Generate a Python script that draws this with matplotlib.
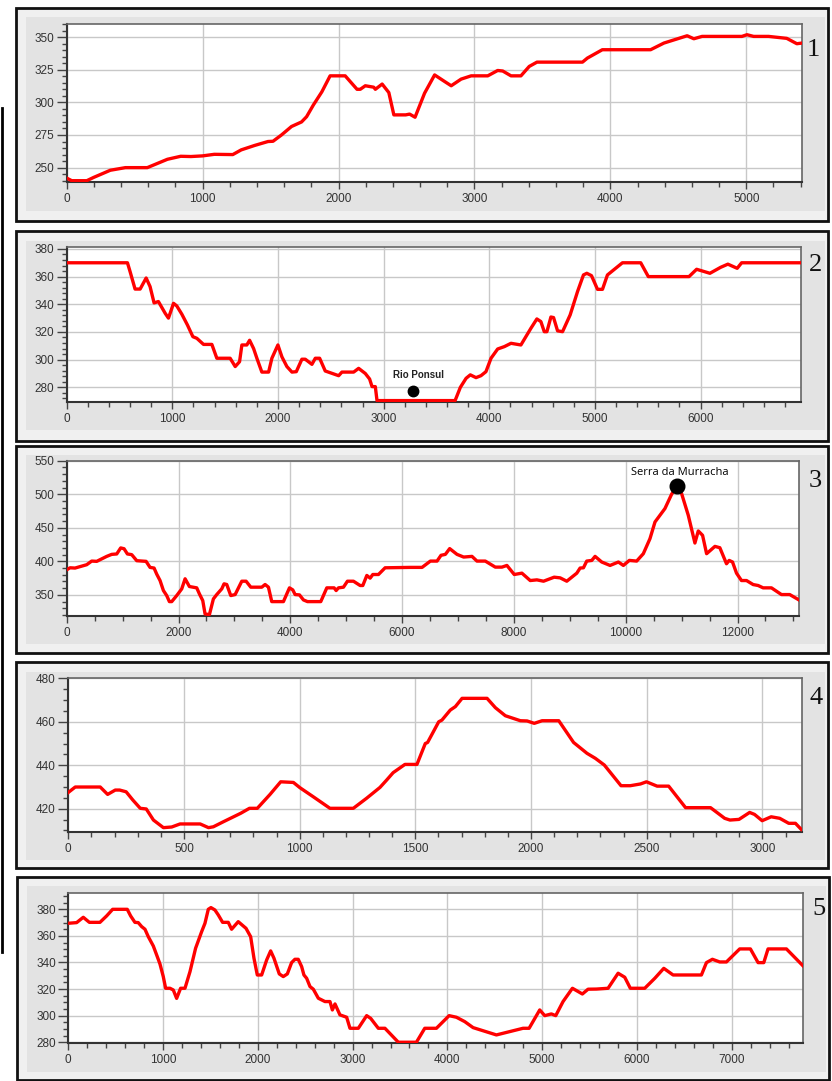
import numpy as np
import matplotlib
matplotlib.use("Agg")
import matplotlib.pyplot as plt
from matplotlib.patches import Rectangle
from matplotlib.lines import Line2D
from matplotlib.ticker import MultipleLocator

W, H = 832, 1081

# ---- elevation profiles (distance m, altitude m) ----
dist1 = [0, 37, 148, 198, 321, 432, 593, 741, 839, 914, 1000, 1086, 1222, 1284, 1383,
         1481, 1518, 1580, 1654, 1728, 1765, 1815, 1877, 1938, 2049, 2136, 2160, 2197,
         2259, 2271, 2321, 2370, 2407, 2494, 2523, 2563, 2633, 2707, 2780, 2829, 2902,
         2976, 3098, 3171, 3208, 3269, 3342, 3403, 3460, 3795, 3831, 3941, 4296, 4394,
         4565, 4614, 4675, 4968, 5005, 5054, 5164, 5298, 5372, 5410]
alt1 = [242, 240, 240, 242.5, 248, 250, 250, 256.4, 258.7, 258.5, 259, 260.2, 260, 263.6,
        267, 270, 270.2, 275, 281.5, 285, 289, 298, 308, 320.3, 320.3, 310, 310, 312.7,
        311.6, 310, 314, 307.5, 290.4, 290.4, 291, 288.6, 307, 321, 316, 312.7, 317.8,
        320.3, 320.3, 324.4, 324, 320.3, 320.3, 327.5, 330.8, 330.8, 333.9, 340.3, 340.3,
        345.4, 351, 348.7, 350.5, 350.5, 351.8, 350.5, 350.5, 349, 344.9, 345.4]

dist2 = [0, 575, 600, 647, 695, 752, 789, 827, 868, 932, 963, 979, 1011, 1042, 1090, 1143,
         1194, 1232, 1295, 1374, 1421, 1547, 1595, 1636, 1658, 1705, 1731, 1769, 1800, 1847,
         1911, 1942, 1999, 2037, 2084, 2132, 2173, 2226, 2258, 2321, 2353, 2394, 2447, 2574,
         2605, 2716, 2763, 2826, 2867, 2890, 2921, 2937, 3676, 3726, 3780, 3820, 3874, 3921,
         3968, 4016, 4079, 4142, 4205, 4299, 4394, 4450, 4488, 4520, 4545, 4583, 4608, 4646,
         4693, 4765, 4835, 4891, 4923, 4967, 5024, 5071, 5118, 5260, 5433, 5505, 5890, 5962,
         6088, 6189, 6258, 6346, 6388, 6950]
alt2 = [370, 370, 363.6, 351, 351, 359, 352.8, 341, 342, 333.5, 330, 333.5, 340.7, 338.8,
        332.8, 325, 316.6, 315.4, 311, 311, 301, 301, 295, 298.5, 310.6, 310.6, 314, 308,
        301, 291, 291, 301, 310.6, 302, 295, 291, 291.3, 300.3, 300.3, 296.6, 301, 301,
        291.8, 288.4, 291, 291, 293.7, 290, 286, 280.5, 280.5, 270.4, 270.4, 280, 286.5, 289,
        287, 288.4, 291.3, 301, 307.7, 309.4, 311.8, 310.6, 322.7, 329.4, 327.5, 320.2,
        320.2, 330.8, 330.4, 320.8, 320.2, 332.3, 349.2, 361.2, 362.4, 360.7, 350.8, 350.8,
        361.2, 370, 370, 360, 360, 365.3, 362.4, 366.7, 369, 366, 370, 370]

dist3 = [0, 60, 149, 358, 447, 537, 716, 805, 895, 966, 1026, 1086, 1163, 1253, 1420, 1491,
         1563, 1610, 1670, 1730, 1789, 1837, 1879, 1968, 2058, 2118, 2195, 2326, 2374, 2434,
         2475, 2553, 2624, 2684, 2774, 2815, 2863, 2935, 3013, 3132, 3209, 3293, 3490, 3549,
         3609, 3668, 3877, 3985, 4044, 4086, 4164, 4235, 4307, 4545, 4653, 4784, 4820, 4861,
         4951, 5022, 5130, 5249, 5297, 5369, 5428, 5476, 5577, 5696, 6149, 6357, 6506, 6625,
         6696, 6774, 6851, 6982, 7101, 7250, 7339, 7488, 7667, 7786, 7875, 8006, 8143, 8292,
         8411, 8530, 8720, 8827, 8946, 9125, 9184, 9244, 9303, 9393, 9452, 9571, 9720, 9869,
         9958, 10065, 10196, 10315, 10434, 10524, 10702, 10821, 10911, 11000, 11119, 11238,
         11298, 11375, 11447, 11596, 11684, 11803, 11851, 11911, 11982, 12071, 12161, 12280,
         12369, 12458, 12607, 12786, 12934, 13100]
alt3 = [387.4, 390.4, 390, 395, 400.4, 400, 407.4, 410.4, 411, 420, 418.8, 411, 410, 401,
        400, 391, 390, 381, 371.4, 356.5, 349, 340, 340, 349, 359, 374, 362.5, 360.5, 351.5,
        341.5, 321.6, 320.6, 344, 350.5, 359, 366.5, 365.5, 349, 350.5, 370.4, 370.4, 361.5,
        361.5, 365.5, 361.5, 340, 340, 360.5, 357.5, 350.5, 350, 342.5, 340, 340, 360.5,
        360.5, 356.5, 360.5, 361.5, 370.4, 370.4, 364, 364, 379, 375, 380.4, 380.4, 390.4,
        391, 391, 400.4, 400.4, 409, 410.4, 419, 410.4, 406.4, 407.4, 400.4, 400.4, 391.4,
        391.4, 393.9, 380.4, 382.4, 371.4, 372.4, 370.4, 376.4, 375.4, 370.4, 382.4, 390,
        390.4, 400.4, 401.4, 407.4, 399, 393.9, 399, 393.9, 401.4, 400.4, 411.4, 433.8,
        458.7, 478.7, 500, 512, 501, 468.7, 427.3, 445.3, 438.8, 411.4, 422.3, 420.3, 396.4,
        401.4, 399, 382.4, 371.4, 371.4, 365.4, 364, 360.5, 360.5, 350.5, 350.5, 342.5]

dist4 = [0, 30, 138, 170, 203, 222, 250, 279, 311, 337, 368, 411, 447, 483, 570, 606, 627,
         670, 745, 783, 817, 872, 918, 973, 1001, 1059, 1131, 1232, 1289, 1347, 1376, 1404,
         1455, 1507, 1543, 1553, 1601, 1615, 1651, 1673, 1702, 1810, 1846, 1889, 1954, 1983,
         2014, 2048, 2120, 2184, 2242, 2278, 2317, 2389, 2429, 2473, 2499, 2545, 2595, 2668,
         2776, 2837, 2860, 2899, 2945, 2966, 2999, 3038, 3075, 3114, 3143, 3168]
alt4 = [427.5, 430, 430, 426.6, 428.6, 428.6, 427.8, 424, 420.2, 419.9, 414.8, 411.3, 411.6,
        413, 413, 411.3, 411.7, 414, 417.9, 420.2, 420.2, 426.6, 432.4, 432.1, 429.7, 425.5,
        420.2, 420.2, 424.8, 429.8, 433.2, 436.6, 440.4, 440.4, 450, 450.5, 460, 460.8,
        465.4, 467, 470.8, 470.8, 466.5, 462.8, 460.5, 460.4, 459.3, 460.5, 460.5, 450.5,
        445.5, 443.2, 440.1, 430.6, 430.6, 431.4, 432.4, 430.4, 430.4, 420.5, 420.5, 415.6,
        414.8, 415.1, 418.3, 417.4, 414.5, 416.3, 415.6, 413.3, 413.3, 410.5]

dist5 = [0, 88, 158, 222, 334, 404, 468, 622, 658, 703, 738, 774, 809, 844, 897, 932, 967,
         1002, 1027, 1073, 1108, 1143, 1185, 1231, 1284, 1343, 1407, 1442, 1477, 1505, 1547,
         1583, 1628, 1688, 1723, 1793, 1875, 1924, 1959, 1994, 2040, 2093, 2135, 2170, 2226,
         2268, 2311, 2356, 2391, 2426, 2462, 2486, 2515, 2550, 2585, 2638, 2708, 2761, 2786,
         2814, 2866, 2937, 2972, 3060, 3148, 3190, 3271, 3341, 3482, 3673, 3761, 3884, 4018,
         4095, 4183, 4271, 4517, 4798, 4862, 4974, 5027, 5097, 5143, 5220, 5319, 5424, 5484,
         5572, 5695, 5801, 5871, 5930, 6082, 6188, 6283, 6381, 6680, 6733, 6796, 6873, 6944,
         7084, 7197, 7278, 7338, 7383, 7577, 7753]
alt5 = [369.5, 370, 374, 370.2, 370.2, 375, 380, 380, 375, 370.2, 370, 367, 365, 359.4,
        352.4, 345.7, 338.9, 329.4, 320.6, 320.6, 319.3, 313, 320.6, 320.6, 333.1, 350.7,
        363.2, 369.5, 380, 381.3, 379.5, 375.7, 370.2, 370.2, 365, 370.7, 365.7, 359.4,
        343.2, 330.6, 330.6, 341.9, 348.7, 343.2, 331.4, 329.4, 331.4, 339.9, 342.4, 342.4,
        336.9, 330.6, 328.1, 321.9, 319.9, 313.1, 310.6, 310.6, 304.3, 308.8, 300.6, 298.8,
        290.5, 290.5, 300, 298, 290.5, 290.5, 280, 280, 290.5, 290.5, 300, 298.8, 295.5, 291,
        285.5, 290.5, 290.5, 304.3, 300, 301.3, 300, 310.6, 320.6, 316.3, 319.9, 320, 320.6,
        331.9, 328.9, 320.6, 320.6, 328.1, 335.6, 330.6, 330.6, 339.9, 342.4, 340.4, 340.4,
        350.2, 350.2, 339.9, 339.9, 350.2, 350.2, 337.4]

# named points
rio_ponsul = (3273, 277.5)
serra_murracha = (10911, 512)

panels = [
    # axes box / frames in pixels (left, top, right, bottom)
    dict(x=dist1, y=alt1, box=(66.7, 24, 802, 182), xlim=(0, 5410), ylim=(239, 360),
         xt=(1000, 200), yt=(25, 5), frame=(16, 8, 828, 221), inner=(26, 17, 825, 211),
         num="1", npos=(813, 50)),
    dict(x=dist2, y=alt2, box=(66.7, 247, 801, 401.7), xlim=(0, 6950), ylim=(269.6, 381.4),
         xt=(1000, 200), yt=(20, 4), frame=(16, 231, 828, 441), inner=(26, 241, 825, 430),
         num="2", npos=(815, 265)),
    dict(x=dist3, y=alt3, box=(66.7, 460.7, 799, 615.7), xlim=(0, 13100), ylim=(319, 550),
         xt=(2000, 500), yt=(50, 10), frame=(16, 446, 828, 653), inner=(26, 455, 825, 644),
         num="3", npos=(815, 481)),
    dict(x=dist4, y=alt4, box=(68.3, 677.7, 801.7, 832), xlim=(0, 3170), ylim=(409.3, 480.3),
         xt=(500, 100), yt=(20, 5), frame=(16, 662, 828, 868), inner=(26, 672, 825, 860),
         num="4", npos=(816, 698)),
    dict(x=dist5, y=alt5, box=(68.3, 892.7, 803.3, 1043.3), xlim=(0, 7755), ylim=(279.2, 392.5),
         xt=(1000, 200), yt=(20, 5), frame=(17, 877, 829, 1080), inner=(27, 886, 826, 1072),
         num="5", npos=(819, 909)),
]

fig = plt.figure(figsize=(W / 100, H / 100), dpi=100)
fig.patch.set_facecolor("white")


def frac_rect(l, t, r, b):
    return (l / W, 1 - b / H, (r - l) / W, (b - t) / H)


axes = []
for p in panels:
    # panel frame (behind the axes)
    x0, y0, w, h = frac_rect(*p["frame"])
    fig.patches.append(Rectangle((x0, y0), w, h, transform=fig.transFigure,
                                 facecolor="#f0f0f0", edgecolor="#111111", lw=2, zorder=-2))
    x0, y0, w, h = frac_rect(*p["inner"])
    fig.patches.append(Rectangle((x0, y0), w, h, transform=fig.transFigure,
                                 facecolor="#e3e3e3", edgecolor="none", zorder=-1))

    ax = fig.add_axes(frac_rect(*p["box"]))
    ax.set_facecolor("white")
    ax.plot(p["x"], p["y"], color="#ff0000", lw=2.4, solid_joinstyle="round", zorder=3)
    ax.set_xlim(*p["xlim"])
    ax.set_ylim(*p["ylim"])
    ax.xaxis.set_major_locator(MultipleLocator(p["xt"][0]))
    ax.xaxis.set_minor_locator(MultipleLocator(p["xt"][1]))
    ax.yaxis.set_major_locator(MultipleLocator(p["yt"][0]))
    ax.yaxis.set_minor_locator(MultipleLocator(p["yt"][1]))
    ax.grid(True, which="major", color="#c8c8c8", lw=1)
    ax.set_axisbelow(True)
    ax.tick_params(which="major", length=5, width=1, color="#444444", labelsize=8.5,
                   labelcolor="#333333", pad=3)
    ax.tick_params(axis="y", which="major", length=7, pad=2)
    ax.tick_params(which="minor", length=3.5, width=1, color="#444444")
    for s in ["top", "right"]:
        ax.spines[s].set_color("#666666")
        ax.spines[s].set_linewidth(1.2)
    for s in ["left", "bottom"]:
        ax.spines[s].set_color("#333333")
        ax.spines[s].set_linewidth(1.5)
    for lab in ax.get_xticklabels() + ax.get_yticklabels():
        lab.set_family("Liberation Sans")

    fig.text(p["npos"][0] / W, 1 - p["npos"][1] / H, p["num"], family="Liberation Serif",
             fontsize=19, ha="center", va="center", color="#111111")
    axes.append(ax)

# markers on panels 2 and 3
axes[1].plot(*rio_ponsul, "o", color="black", ms=7.5, zorder=4)
axes[1].text(rio_ponsul[0] + 60, rio_ponsul[1] + 8, "Rio Ponsul", fontsize=7,
             fontweight="bold", family="Liberation Sans", ha="center", va="bottom",
             color="#222222")
axes[2].plot(*serra_murracha, "o", color="black", ms=10.5, zorder=4)
axes[2].text(serra_murracha[0] + 50, serra_murracha[1] + 12, "Serra da Murracha",
             fontsize=8, family="Open Sans", ha="center", va="bottom", color="#000000")

# thin black edge at the left border
fig.lines.append(Line2D([1.5 / W, 1.5 / W], [1 - 108 / H, 1 - 952 / H],
                        transform=fig.transFigure, color="black", lw=2))

fig.savefig("out.png", dpi=100)
